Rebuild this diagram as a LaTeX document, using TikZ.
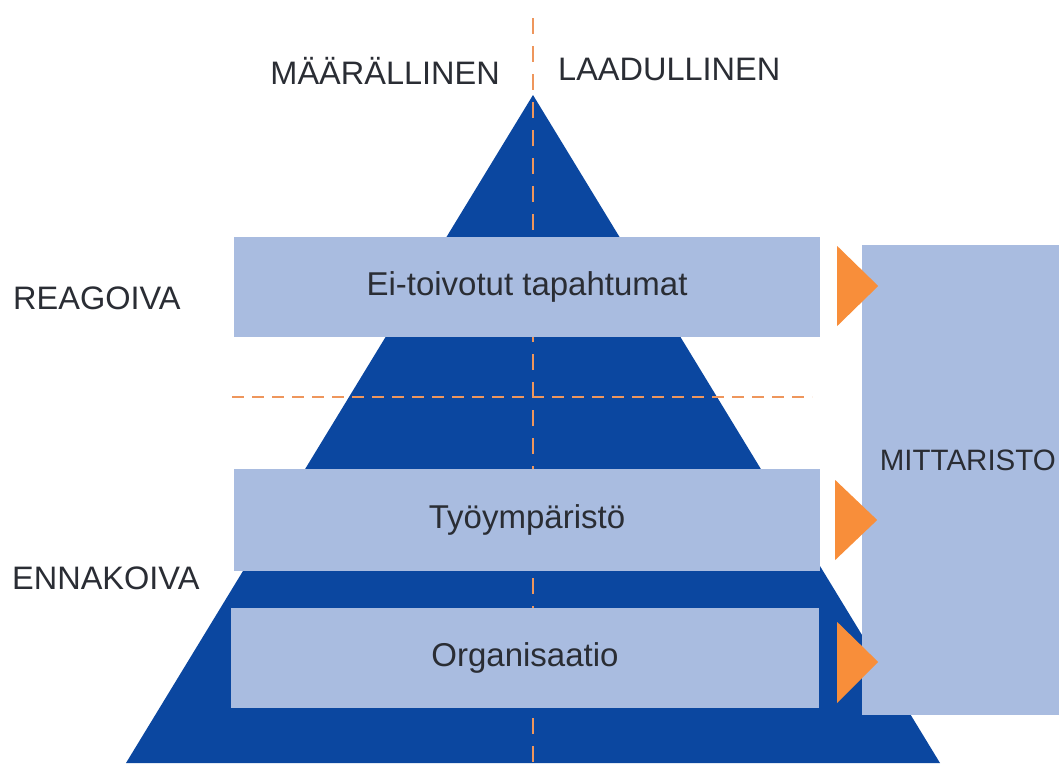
\documentclass[tikz,border=0pt]{standalone}
\usepackage{fontspec}
\setmainfont{Liberation Sans}
\usepackage{tikz}
\usetikzlibrary{positioning}

\definecolor{pyrblue}{RGB}{11,71,160}
\definecolor{boxblue}{RGB}{169,188,224}
\definecolor{pointorange}{RGB}{248,142,58}
\definecolor{guideorange}{RGB}{238,150,92}
\definecolor{labelgray}{RGB}{42,45,52}

\tikzset{
  levelbox/.style={fill=boxblue, minimum width=586pt, minimum height=100pt, inner sep=0pt,
    text=labelgray, font=\fontsize{33}{38}\selectfont},
  gaugebox/.style={fill=boxblue, minimum width=197pt, minimum height=470pt, inner sep=0pt},
  sidelabel/.style={text=labelgray, inner sep=0pt, font=\fontsize{32.5}{38}\selectfont},
  vguide/.style={guideorange, line width=2.5pt, dash pattern=on 16pt off 12pt},
  hguide/.style={guideorange, line width=2.5pt, dash pattern=on 12pt off 8pt},
  pointer/.style={fill=pointorange}
}

\begin{document}
\begin{tikzpicture}[x=1pt,y=-1pt]
    \useasboundingbox (0,0) rectangle (1059,763);
    %\draw [step=50pt] (0,0) grid (1059,763);
    % pyramid
    \fill[pyrblue] (533,95) coordinate (apex) -- (940,763) -- (126,763) -- cycle;
    % guides
    \coordinate (vtop) at (533,18);
    \coordinate (vbot) at (533,763);
    \coordinate (hleft) at (232,397);
    \coordinate (hright) at (812,397);
    \draw[vguide] (vtop) -- (vbot);
    \draw[hguide] (hleft) -- (hright);
    % levels
    \node[levelbox] (ei) at (527,287) {Ei-toivotut tapahtumat};
    \node[levelbox, minimum height=102pt] (tyo) at (527,520) {Työympäristö};
    \node[levelbox, minimum width=588pt] (org) at (525,658) {Organisaatio};
    \node[gaugebox] (mitt) at (960.5,480) {};
    \node[sidelabel, anchor=east, font=\fontsize{29.5}{34}\selectfont] (mittlabel) at (1056,460) {MITTARISTO};
    % pointers
    \fill[pointer] ([xshift=17pt,yshift=41pt]ei.east) -- ([xshift=58pt,yshift=1pt]ei.east) -- ([xshift=17pt,yshift=-39pt]ei.east) -- cycle;
    \fill[pointer] ([xshift=15pt,yshift=40pt]tyo.east) -- ([xshift=57pt]tyo.east) -- ([xshift=15pt,yshift=-40pt]tyo.east) -- cycle;
    \fill[pointer] ([xshift=18pt,yshift=36pt]org.east) -- ([xshift=59pt,yshift=-4pt]org.east) -- ([xshift=18pt,yshift=-45pt]org.east) -- cycle;
    % labels
    \node[sidelabel, anchor=east] (maara) at (500,71) {MÄÄRÄLLINEN};
    \node[sidelabel, anchor=west] (laatu) at (558,69) {LAADULLINEN};
    \node[sidelabel, anchor=west] (reag) at (13,298) {REAGOIVA};
    \node[sidelabel, anchor=west] (ennak) at (12,578) {ENNAKOIVA};
\end{tikzpicture}
\end{document}
